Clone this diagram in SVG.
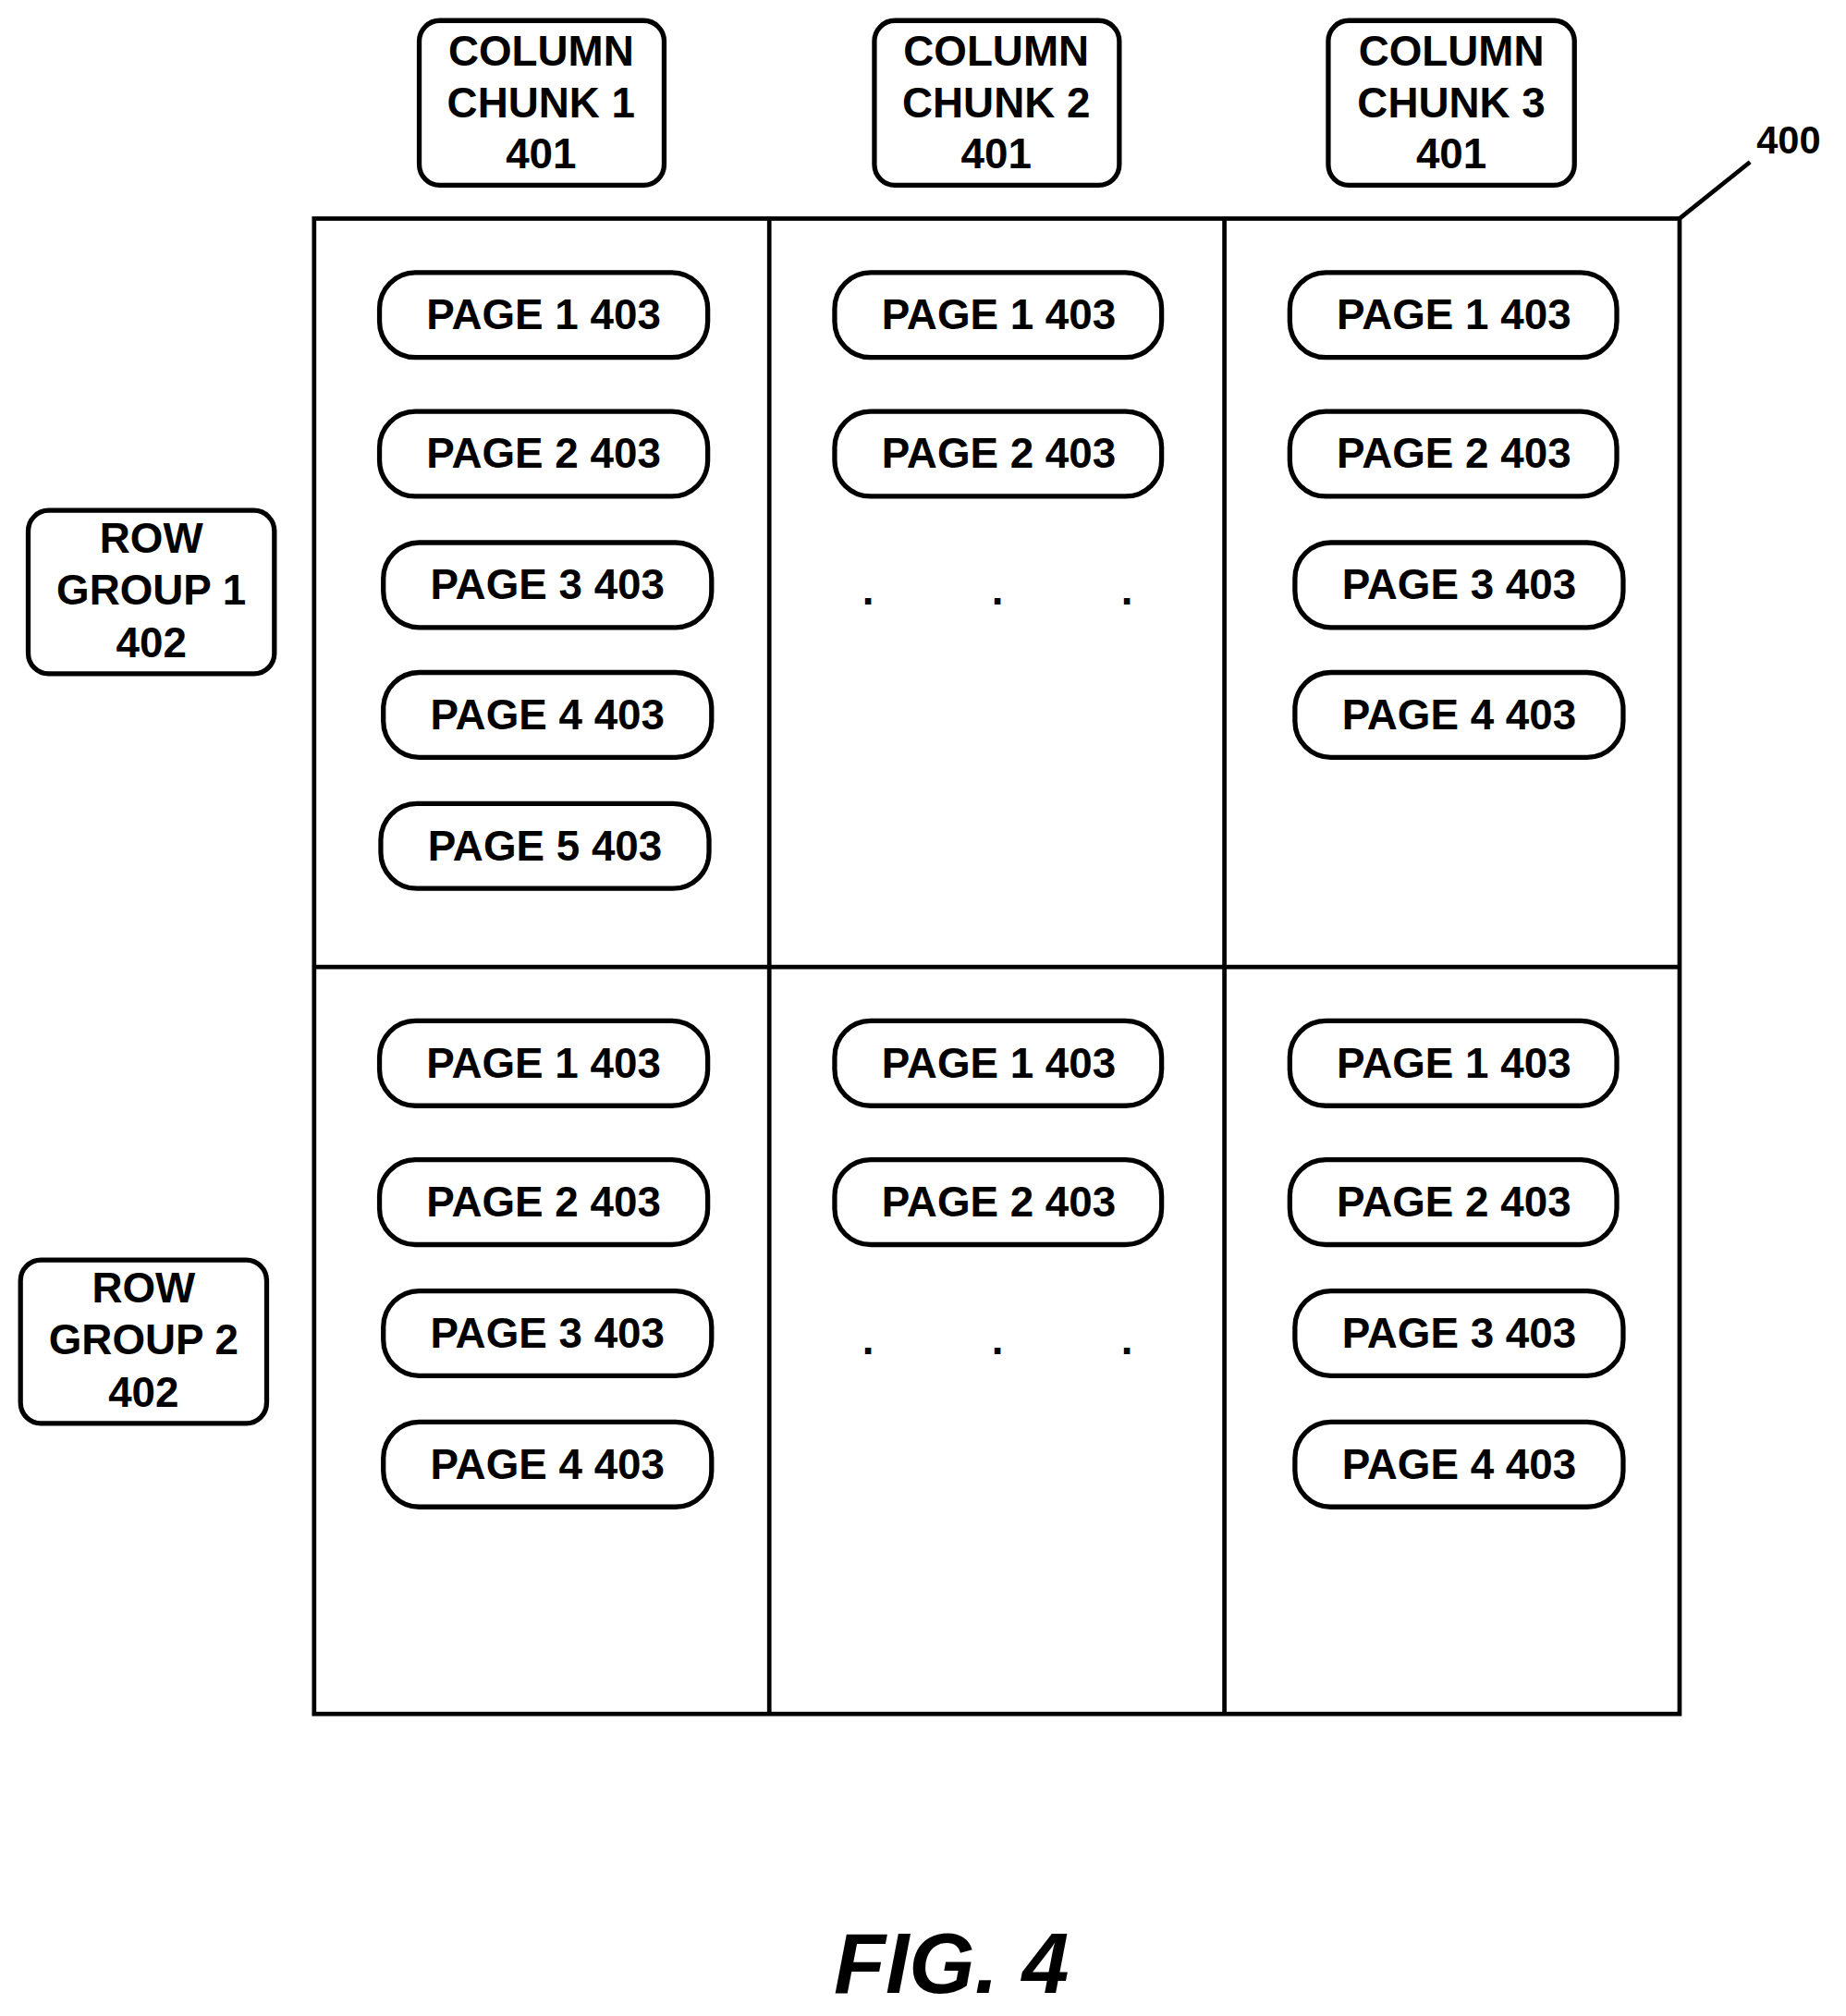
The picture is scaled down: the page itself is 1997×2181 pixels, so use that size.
<svg xmlns="http://www.w3.org/2000/svg" width="1997" height="2181" viewBox="0 0 1997 2181">
<style>
.b{fill:#fff;stroke:#000;stroke-width:3.8}
.t{font-family:"Liberation Sans",Arial,sans-serif;font-weight:bold;font-size:33px;text-anchor:middle;fill:#000}
.ln{fill:none;stroke:#000;stroke-width:3.4}
</style>
<rect width="1997" height="2181" fill="#fff"/>
<g transform="scale(1.387,1.391)">
<g id="connectors">
<rect class="ln" x="245" y="170" width="1065" height="1163"/>
<line class="ln" x1="600" y1="170" x2="600" y2="1333"/>
<line class="ln" x1="955" y1="170" x2="955" y2="1333"/>
<line class="ln" x1="245" y1="752" x2="1310" y2="752"/>
<line class="ln" x1="1310" y1="170" x2="1365" y2="126"/>
</g>
<text class="t" x="1395" y="119" style="font-size:30px">400</text>
<g id="cc1"><rect class="b" x="327" y="16" width="191" height="128" rx="16"/><text class="t" x="422" y="51">COLUMN</text><text class="t" x="422" y="91">CHUNK 1</text><text class="t" x="422" y="131">401</text></g>
<g id="cc2"><rect class="b" x="682" y="16" width="191" height="128" rx="16"/><text class="t" x="777" y="51">COLUMN</text><text class="t" x="777" y="91">CHUNK 2</text><text class="t" x="777" y="131">401</text></g>
<g id="cc3"><rect class="b" x="1036" y="16" width="192" height="128" rx="16"/><text class="t" x="1132" y="51">COLUMN</text><text class="t" x="1132" y="91">CHUNK 3</text><text class="t" x="1132" y="131">401</text></g>
<g id="rg1"><rect class="b" x="22" y="397" width="192" height="127" rx="16"/><text class="t" x="118" y="430">ROW</text><text class="t" x="118" y="470">GROUP 1</text><text class="t" x="118" y="511">402</text></g>
<g id="rg2"><rect class="b" x="16" y="980" width="192" height="127" rx="16"/><text class="t" x="112" y="1013">ROW</text><text class="t" x="112" y="1053">GROUP 2</text><text class="t" x="112" y="1094">402</text></g>
<g id="p11"><rect class="b" x="296" y="212" width="256" height="66" rx="28"/><text class="t" x="424" y="256">PAGE 1 403</text></g>
<g id="p12"><rect class="b" x="296" y="320" width="256" height="66" rx="28"/><text class="t" x="424" y="364">PAGE 2 403</text></g>
<g id="p13"><rect class="b" x="299" y="422" width="256" height="66" rx="28"/><text class="t" x="427" y="466">PAGE 3 403</text></g>
<g id="p14"><rect class="b" x="299" y="523" width="256" height="66" rx="28"/><text class="t" x="427" y="567">PAGE 4 403</text></g>
<g id="p15"><rect class="b" x="297" y="625" width="256" height="66" rx="28"/><text class="t" x="425" y="669">PAGE 5 403</text></g>
<g id="p21"><rect class="b" x="651" y="212" width="255" height="66" rx="28"/><text class="t" x="779" y="256">PAGE 1 403</text></g>
<g id="p22"><rect class="b" x="651" y="320" width="255" height="66" rx="28"/><text class="t" x="779" y="364">PAGE 2 403</text></g>
<g id="dots1"><text class="t" x="677" y="470">.</text><text class="t" x="778" y="470">.</text><text class="t" x="879" y="470">.</text></g>
<g id="p31"><rect class="b" x="1006" y="212" width="255" height="66" rx="28"/><text class="t" x="1134" y="256">PAGE 1 403</text></g>
<g id="p32"><rect class="b" x="1006" y="320" width="255" height="66" rx="28"/><text class="t" x="1134" y="364">PAGE 2 403</text></g>
<g id="p33"><rect class="b" x="1010" y="422" width="256" height="66" rx="28"/><text class="t" x="1138" y="466">PAGE 3 403</text></g>
<g id="p34"><rect class="b" x="1010" y="523" width="256" height="66" rx="28"/><text class="t" x="1138" y="567">PAGE 4 403</text></g>
<g id="q11"><rect class="b" x="296" y="794" width="256" height="66" rx="28"/><text class="t" x="424" y="838">PAGE 1 403</text></g>
<g id="q12"><rect class="b" x="296" y="902" width="256" height="66" rx="28"/><text class="t" x="424" y="946">PAGE 2 403</text></g>
<g id="q13"><rect class="b" x="299" y="1004" width="256" height="66" rx="28"/><text class="t" x="427" y="1048">PAGE 3 403</text></g>
<g id="q14"><rect class="b" x="299" y="1106" width="256" height="66" rx="28"/><text class="t" x="427" y="1150">PAGE 4 403</text></g>
<g id="q21"><rect class="b" x="651" y="794" width="255" height="66" rx="28"/><text class="t" x="779" y="838">PAGE 1 403</text></g>
<g id="q22"><rect class="b" x="651" y="902" width="255" height="66" rx="28"/><text class="t" x="779" y="946">PAGE 2 403</text></g>
<g id="dots2"><text class="t" x="677" y="1053">.</text><text class="t" x="778" y="1053">.</text><text class="t" x="879" y="1053">.</text></g>
<g id="q31"><rect class="b" x="1006" y="794" width="255" height="66" rx="28"/><text class="t" x="1134" y="838">PAGE 1 403</text></g>
<g id="q32"><rect class="b" x="1006" y="902" width="255" height="66" rx="28"/><text class="t" x="1134" y="946">PAGE 2 403</text></g>
<g id="q33"><rect class="b" x="1010" y="1004" width="256" height="66" rx="28"/><text class="t" x="1138" y="1048">PAGE 3 403</text></g>
<g id="q34"><rect class="b" x="1010" y="1106" width="256" height="66" rx="28"/><text class="t" x="1138" y="1150">PAGE 4 403</text></g>
<text class="t" x="742" y="1550" style="font-size:66px;font-style:italic">FIG. 4</text>
</g>
</svg>
